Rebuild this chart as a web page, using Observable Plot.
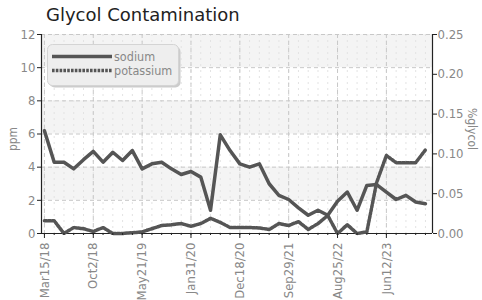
<!DOCTYPE html>
<html>
<head>
<meta charset="utf-8">
<script src="https://cdn.jsdelivr.net/npm/d3@7"></script>
<script src="https://cdn.jsdelivr.net/npm/@observablehq/plot@0.6"></script>
<style>
  html, body { margin: 0; padding: 0; background: #fff; }
  #chart svg { display: block; }
</style>
</head>
<body>
<div id="chart"></div>
<script>
const title = "Glycol Contamination";
const tickLabels = ["Mar15/18","Oct2/18","May21/19","Jan31/20","Dec18/20","Sep29/21","Aug25/22","Jun12/23"];
const sodium = [6.2,4.3,4.3,3.9,4.45,4.95,4.3,4.9,4.4,5.0,3.9,4.2,4.3,3.9,3.56,3.74,3.4,1.4,5.95,5.0,4.2,4.0,4.2,3.0,2.3,2.05,1.55,1.1,1.4,1.1,1.95,2.5,1.4,2.9,2.95,2.5,2.05,2.3,1.9,1.8];
const potassium = [0.016,0.016,0.0,0.0075,0.006,0.0025,0.0075,0.0,0.0,0.001,0.002,0.006,0.01,0.011,0.0125,0.009,0.0125,0.019,0.014,0.0075,0.0075,0.0075,0.007,0.005,0.0125,0.01,0.015,0.005,0.0125,0.0226,0.0,0.011,0.0,0.002,0.064,0.098,0.089,0.089,0.089,0.105];
const seriesNames = ["sodium","potassium"];
const leftTicks = [0,2,4,6,8,10,12];
const rightTicks = [0,0.05,0.10,0.15,0.20,0.25];
const bands = [[2,4],[6,8],[10,12]];

const ratio = 12 / 0.25;
const data = sodium.map((s, i) => ({i, s, k: potassium[i]}));
const n = sodium.length;
const xDomain = [-0.3, n - 1 + 0.72];
const font = "'DejaVu Sans Condensed', 'Liberation Sans Narrow', 'DejaVu Sans', sans-serif";
const ink = "#555";
const dots = "2.6,1.2";

const chart = Plot.plot({
  width: 482,
  height: 300,
  marginLeft: 41,
  marginRight: 50,
  marginTop: 34,
  marginBottom: 67,
  style: {fontFamily: font, fontSize: "13px", fontStretch: "condensed", color: "#888", background: "#fff"},
  x: {domain: xDomain, axis: null},
  y: {domain: [0, 12], axis: null},
  marks: [
    Plot.rect(bands, {y1: d => d[0], y2: d => d[1], fill: "#f4f4f4"}),
    Plot.gridX({ticks: d3.range(n), stroke: "#e3e3e3", strokeOpacity: 1, strokeDasharray: "2,4"}),
    Plot.gridX({ticks: d3.range(0, n, 5), stroke: "#c8c8c8", strokeOpacity: 1, strokeDasharray: "4,3"}),
    Plot.gridY({ticks: leftTicks.slice(1), stroke: "#c8c8c8", strokeOpacity: 1, strokeDasharray: "4,3"}),
    Plot.ruleX([xDomain[0], xDomain[1]], {stroke: "#222", strokeWidth: 1.2}),
    Plot.ruleY([0], {stroke: "#222", strokeWidth: 1.2}),
    Plot.line(data, {x: "i", y: d => d.k * ratio, stroke: ink, strokeWidth: 3.5, strokeDasharray: dots}),
    Plot.line(data, {x: "i", y: "s", stroke: ink, strokeWidth: 3.5}),
    Plot.axisY({ticks: leftTicks, anchor: "left", tickSize: 4, tickPadding: 2, label: null, stroke: "#222", fill: "#888"}),
    Plot.axisY({ticks: rightTicks.map(v => v * ratio), anchor: "right", tickSize: 4, tickPadding: 1, label: null,
      tickFormat: d => (d / ratio).toFixed(2), stroke: "#222", fill: "#888"}),
    Plot.axisX({ticks: d3.range(n), anchor: "bottom", tickSize: 2, tickFormat: () => "", label: null, stroke: "#222"}),
    Plot.axisX({ticks: d3.range(0, n, 5), anchor: "bottom", tickSize: 5, tickPadding: 4, tickRotate: -90, label: null,
      tickFormat: i => tickLabels[i / 5], stroke: "#222", fill: "#888"})
  ]
});

document.getElementById("chart").appendChild(chart);
const svg = d3.select(chart);

svg.append("text").attr("x", 46).attr("y", 21).attr("text-anchor", "start")
  .attr("font-family", "'DejaVu Sans', sans-serif").attr("font-size", 18).attr("fill", "#222")
  .attr("font-stretch", "normal")
  .text(title);

svg.append("text").attr("transform", "translate(17,139) rotate(-90)")
  .attr("text-anchor", "middle").attr("font-size", 12).attr("fill", "#888").text("ppm");
svg.append("text").attr("transform", "translate(468,129) rotate(90)")
  .attr("text-anchor", "middle").attr("font-size", 12).attr("fill", "#888").text("%glycol");

const lg = svg.append("g");
lg.append("rect").attr("x", 48.5).attr("y", 45.5).attr("width", 131).attr("height", 41).attr("rx", 5)
  .attr("fill", "#ccc").attr("transform", "translate(1,1)");
lg.append("rect").attr("x", 47.5).attr("y", 44.5).attr("width", 131).attr("height", 41).attr("rx", 5)
  .attr("fill", "#eeeeee").attr("stroke", "#d4d4d4");
seriesNames.forEach((name, j) => {
  const y = 56.5 + j * 14;
  lg.append("line").attr("x1", 52).attr("x2", 112).attr("y1", y).attr("y2", y)
    .attr("stroke", ink).attr("stroke-width", 3.5).attr("stroke-dasharray", j ? dots : null);
  lg.append("text").attr("x", 114).attr("y", y + 4).attr("text-anchor", "start")
    .attr("font-size", 12.5).attr("fill", "#888").text(name);
});
</script>
</body>
</html>
